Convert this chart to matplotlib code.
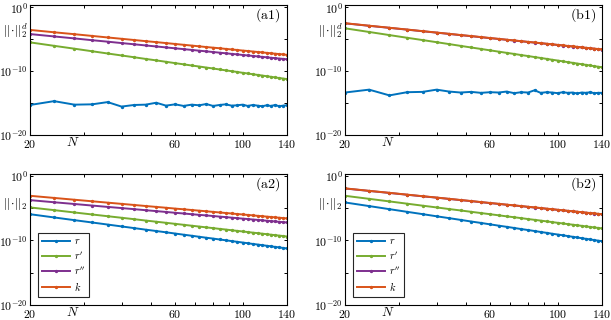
import numpy as np
import matplotlib
matplotlib.use("Agg")
import matplotlib.pyplot as plt
from matplotlib.ticker import FixedLocator, NullFormatter, FixedFormatter

plt.rcParams['mathtext.fontset'] = 'cm'
plt.rcParams['font.family'] = ['DejaVu Serif']

# ---------------- data (log10 of norms) ----------------
N = [20, 24, 28, 32, 36, 40, 44, 48, 52, 56, 60, 64, 68, 72, 76, 80, 84, 88,
     92, 96, 100, 104, 108, 112, 116, 120, 124, 128, 132, 136, 140]

a1_r = [-15.30, -14.70, -15.25, -15.20, -14.85, -15.55, -15.30, -15.25, -14.95, -15.40,
        -15.20, -15.45, -15.25, -15.35, -15.15, -15.45, -15.30, -15.20, -15.40, -15.35,
        -15.25, -15.45, -15.30, -15.40, -15.50, -15.35, -15.45, -15.30, -15.50, -15.40, -15.35]
a1_r1 = [-5.50, -6.04, -6.49, -6.89, -7.24, -7.55, -7.83, -8.09, -8.32, -8.54, -8.75,
         -8.94, -9.12, -9.28, -9.44, -9.59, -9.74, -9.88, -10.01, -10.13, -10.26, -10.37,
         -10.49, -10.59, -10.69, -10.80, -10.89, -10.99, -11.08, -11.16, -11.25]
a1_r2 = [-4.20, -4.57, -4.88, -5.16, -5.39, -5.61, -5.80, -5.98, -6.14, -6.29, -6.43,
         -6.56, -6.68, -6.80, -6.91, -7.01, -7.11, -7.21, -7.30, -7.38, -7.47, -7.55,
         -7.62, -7.70, -7.77, -7.84, -7.91, -7.97, -8.03, -8.09, -8.15]
a1_k = [-3.55, -3.92, -4.22, -4.49, -4.73, -4.94, -5.13, -5.31, -5.46, -5.61, -5.75,
        -5.88, -6.00, -6.12, -6.23, -6.33, -6.42, -6.52, -6.61, -6.69, -6.78, -6.85,
        -6.93, -7.00, -7.07, -7.14, -7.21, -7.27, -7.33, -7.39, -7.45]

b1_r = [-13.35, -12.90, -13.80, -13.30, -13.25, -12.90, -13.20, -13.35, -13.25, -13.40,
        -13.30, -13.35, -13.20, -13.45, -13.30, -13.35, -13.00, -13.40, -13.30, -13.35,
        -13.45, -13.30, -13.40, -13.35, -13.50, -13.35, -13.40, -13.30, -13.45, -13.40, -13.40]
b1_r1 = [-3.30, -3.87, -4.36, -4.78, -5.14, -5.47, -5.77, -6.05, -6.30, -6.53, -6.75,
         -6.95, -7.14, -7.31, -7.49, -7.64, -7.80, -7.94, -8.08, -8.22, -8.34, -8.47,
         -8.59, -8.70, -8.81, -8.92, -9.02, -9.12, -9.22, -9.31, -9.40]
b1_r2 = [-2.52, -2.91, -3.23, -3.51, -3.76, -3.98, -4.18, -4.37, -4.53, -4.69, -4.84,
         -4.97, -5.10, -5.22, -5.33, -5.44, -5.54, -5.64, -5.73, -5.82, -5.91, -5.99,
         -6.08, -6.15, -6.22, -6.30, -6.37, -6.43, -6.50, -6.56, -6.62]
b1_k = [-2.50, -2.89, -3.21, -3.49, -3.74, -3.96, -4.16, -4.35, -4.51, -4.67, -4.82,
        -4.95, -5.08, -5.20, -5.31, -5.42, -5.52, -5.62, -5.71, -5.80, -5.89, -5.97,
        -6.06, -6.13, -6.20, -6.28, -6.35, -6.41, -6.48, -6.54, -6.60]

a2_r = [-5.95, -6.45, -6.87, -7.23, -7.55, -7.84, -8.10, -8.34, -8.55, -8.75, -8.94,
        -9.12, -9.28, -9.44, -9.59, -9.72, -9.86, -9.98, -10.11, -10.22, -10.33, -10.44,
        -10.55, -10.64, -10.74, -10.83, -10.92, -11.01, -11.09, -11.17, -11.25]
a2_r1 = [-4.90, -5.32, -5.68, -5.99, -6.26, -6.50, -6.72, -6.93, -7.11, -7.28, -7.44,
         -7.59, -7.73, -7.86, -7.99, -8.10, -8.22, -8.32, -8.43, -8.53, -8.62, -8.71,
         -8.80, -8.88, -8.96, -9.04, -9.12, -9.19, -9.26, -9.33, -9.40]
a2_r2 = [-3.77, -4.10, -4.37, -4.61, -4.82, -5.00, -5.17, -5.33, -5.47, -5.60, -5.73,
         -5.84, -5.95, -6.05, -6.14, -6.23, -6.32, -6.40, -6.48, -6.56, -6.63, -6.70,
         -6.77, -6.83, -6.89, -6.96, -7.02, -7.07, -7.13, -7.18, -7.23]
a2_k = [-3.10, -3.43, -3.71, -3.95, -4.16, -4.35, -4.52, -4.68, -4.82, -4.95, -5.08,
        -5.19, -5.30, -5.40, -5.50, -5.59, -5.68, -5.76, -5.84, -5.92, -5.99, -6.06,
        -6.13, -6.20, -6.26, -6.32, -6.38, -6.44, -6.49, -6.55, -6.60]

b2_r = [-4.13, -4.69, -5.17, -5.58, -5.94, -6.27, -6.56, -6.83, -7.08, -7.30, -7.52,
        -7.72, -7.90, -8.08, -8.25, -8.40, -8.55, -8.70, -8.83, -8.97, -9.09, -9.21,
        -9.33, -9.44, -9.55, -9.66, -9.76, -9.85, -9.95, -10.04, -10.13]
b2_r1 = [-3.10, -3.57, -3.97, -4.32, -4.63, -4.90, -5.15, -5.37, -5.58, -5.77, -5.95,
         -6.12, -6.28, -6.42, -6.56, -6.70, -6.82, -6.94, -7.06, -7.17, -7.28, -7.38,
         -7.48, -7.57, -7.66, -7.75, -7.84, -7.92, -8.00, -8.07, -8.15]
b2_r2 = [-1.97, -2.35, -2.66, -2.94, -3.18, -3.39, -3.59, -3.77, -3.93, -4.09, -4.23,
         -4.36, -4.49, -4.60, -4.71, -4.82, -4.92, -5.01, -5.11, -5.19, -5.28, -5.36,
         -5.44, -5.51, -5.58, -5.65, -5.72, -5.79, -5.85, -5.91, -5.97]
b2_k = [-1.95, -2.33, -2.64, -2.92, -3.16, -3.37, -3.57, -3.75, -3.91, -4.07, -4.21,
        -4.34, -4.47, -4.58, -4.69, -4.80, -4.90, -4.99, -5.09, -5.17, -5.26, -5.34,
        -5.42, -5.49, -5.56, -5.63, -5.70, -5.77, -5.83, -5.89, -5.95]

series_labels = ['$r$', "$r'$", "$r''$", '$k$']
colors = ['#0072BD', '#77AC30', '#7E2F8E', '#D95319']
x_ticks = [20, 60, 100, 140]
x_minor = [30, 40, 50, 70, 80, 90]
panel_names = ['(a1)', '(b1)', '(a2)', '(b2)']

panels = [
    (a1_r, a1_r1, a1_r2, a1_k),
    (b1_r, b1_r1, b1_r2, b1_k),
    (a2_r, a2_r1, a2_r2, a2_k),
    (b2_r, b2_r1, b2_r2, b2_k),
]

W, H = 611, 320
fig = plt.figure(figsize=(W / 100, H / 100), dpi=100)

# axes rectangles in pixels: (x0, x1, ytop, ybottom)
rects = [(30, 287, 5, 135), (345, 602, 5, 135),
         (30, 287, 173.5, 305), (345, 602, 173.5, 305)]

for i, (rect, data) in enumerate(zip(rects, panels)):
    x0, x1, yt, yb = rect
    ax = fig.add_axes([x0 / W, 1 - yb / H, (x1 - x0) / W, (yb - yt) / H])
    ax.set_xscale('log')
    ax.set_yscale('log')
    for vals, c, lab in zip(data, colors, series_labels):
        ax.plot(N, 10 ** np.array(vals), color=c, lw=1.4, marker='.', ms=2.8,
                label=lab)
    ax.set_xlim(20, 140)
    ax.set_ylim(1e-20, 10 ** 0.35)

    ax.xaxis.set_major_locator(FixedLocator(x_ticks))
    ax.xaxis.set_major_formatter(FixedFormatter(['$%d$' % v for v in x_ticks]))
    ax.xaxis.set_minor_locator(FixedLocator(x_minor))
    ax.xaxis.set_minor_formatter(NullFormatter())
    ax.yaxis.set_major_locator(FixedLocator([1e-20, 1e-10, 1e0]))
    ax.yaxis.set_major_formatter(FixedFormatter(['$10^{-20}$', '$10^{-10}$', '$10^{0}$']))
    ax.yaxis.set_minor_locator(FixedLocator([1e-15, 1e-5]))
    ax.yaxis.set_minor_formatter(NullFormatter())

    ax.tick_params(which='both', direction='in', top=True, right=True,
                   length=2.5, width=0.7, labelsize=8.5, pad=1.5)
    ax.tick_params(axis='x', which='major', pad=1.8)
    for sp in ax.spines.values():
        sp.set_linewidth(0.8)

    ax.text(0.165, -0.058, '$N$', transform=ax.transAxes, ha='center',
            va='center', fontsize=9.5)
    ax.text(0.975, 0.92, r'$\mathrm{%s}$' % panel_names[i], transform=ax.transAxes,
            ha='right', va='center', fontsize=10)
    if i < 2:
        ax.text(-0.008, 0.80, r'$||\!\cdot\!||_2^d$', transform=ax.transAxes,
                ha='right', va='center', fontsize=9)
    else:
        ax.text(-0.008, 0.77, r'$||\!\cdot\!||_2$', transform=ax.transAxes,
                ha='right', va='center', fontsize=9)
        leg = ax.legend(loc='lower left', bbox_to_anchor=(0.012, 0.02), fontsize=7.5,
                        handlelength=2.6, handletextpad=0.4, labelspacing=0.3,
                        borderpad=0.4, fancybox=False, framealpha=1,
                        edgecolor='#262626')
        leg.get_frame().set_linewidth(0.8)

fig.savefig('out.png', dpi=100)
